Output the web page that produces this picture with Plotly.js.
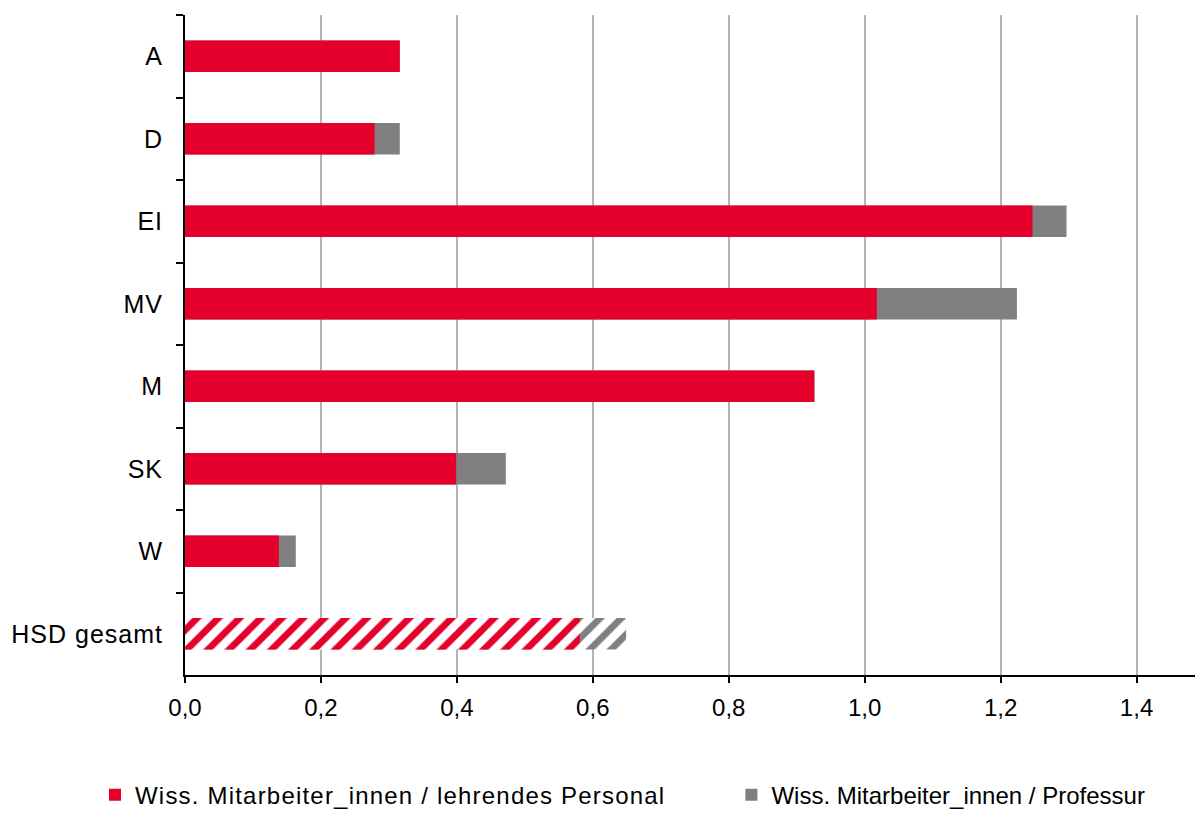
<!DOCTYPE html>
<html>
<head>
<meta charset="utf-8">
<script src="https://cdn.plot.ly/plotly-3.0.1.min.js"></script>
<style>
html,body{margin:0;padding:0;background:#fff;}
#chart{width:1195px;height:813px;}
.legendtext{letter-spacing:1.2px;}
.legend2 .legendtext{letter-spacing:2.3px;}
.ytick text{letter-spacing:1px;}
</style>
</head>
<body>
<div id="chart"></div>
<script>
const categories = ["A", "D", "EI", "MV", "M", "SK", "W", "HSD gesamt"];
const lehrendesPersonal = [0.316, 0.279, 1.247, 1.018, 0.926, 0.399, 0.138, 0.581];
const professur = [0.316, 0.316, 1.297, 1.224, 0.926, 0.472, 0.163, 0.649];
const seriesNames = ["Wiss. Mitarbeiter_innen / lehrendes Personal", "Wiss. Mitarbeiter_innen / Professur"];
const hatched = ["", "", "", "", "", "", "", "/"];

const RED = "#e4002b";
const GRAY = "#808080";

const traces = [
  {
    type: "bar", orientation: "h",
    y: categories, x: professur,
    name: seriesNames[1], legend: "legend2",
    marker: {color: GRAY, line: {width: 0},
      pattern: {shape: hatched, fillmode: "replace", fgcolor: GRAY, bgcolor: "#ffffff", size: 15, solidity: 0.45}},
    hoverinfo: "x+name"
  },
  {
    type: "bar", orientation: "h",
    y: categories, x: lehrendesPersonal,
    name: seriesNames[0], legend: "legend",
    marker: {color: RED, line: {width: 0},
      pattern: {shape: hatched, fillmode: "replace", fgcolor: RED, bgcolor: "#ffffff", size: 15, solidity: 0.45}},
    hoverinfo: "x+name"
  }
];

const legendCommon = {
  orientation: "h",
  yref: "container",
  yanchor: "middle", y: 0.0221,
  xanchor: "left",
  itemwidth: 30,
  font: {size: 24},
  bgcolor: "rgba(0,0,0,0)"
};

const layout = {
  width: 1195, height: 813,
  margin: {l: 185, r: 0, t: 15, b: 138, autoexpand: false},
  paper_bgcolor: "#ffffff", plot_bgcolor: "#ffffff",
  barmode: "overlay",
  bargap: 0.62,
  separators: ",.",
  font: {family: "Liberation Sans, Arial, sans-serif", size: 24, color: "#000"},
  xaxis: {
    range: [0, 1.486],
    tick0: 0, dtick: 0.2, tickformat: ".1f",
    showgrid: true, gridcolor: "#b3b3b3", gridwidth: 2,
    zeroline: false,
    showline: true, linecolor: "#000", linewidth: 2,
    ticks: "outside", ticklen: 6, tickwidth: 2, tickcolor: "#000",
    tickfont: {size: 24},
    ticklabelstandoff: 4,
    fixedrange: true
  },
  yaxis: {
    type: "category",
    autorange: "reversed",
    showgrid: false, zeroline: false,
    showline: true, linecolor: "#000", linewidth: 2,
    ticks: "outside", tickson: "boundaries", ticklen: 7, tickwidth: 2, tickcolor: "#000",
    tickfont: {size: 25},
    ticklabelstandoff: 15,
    fixedrange: true
  },
  showlegend: true,
  legend: Object.assign({}, legendCommon, {x: -0.0891}),
  legend2: Object.assign({}, legendCommon, {x: 0.541})
};

Plotly.newPlot("chart", traces, layout, {displayModeBar: false, staticPlot: true});
</script>
</body>
</html>
